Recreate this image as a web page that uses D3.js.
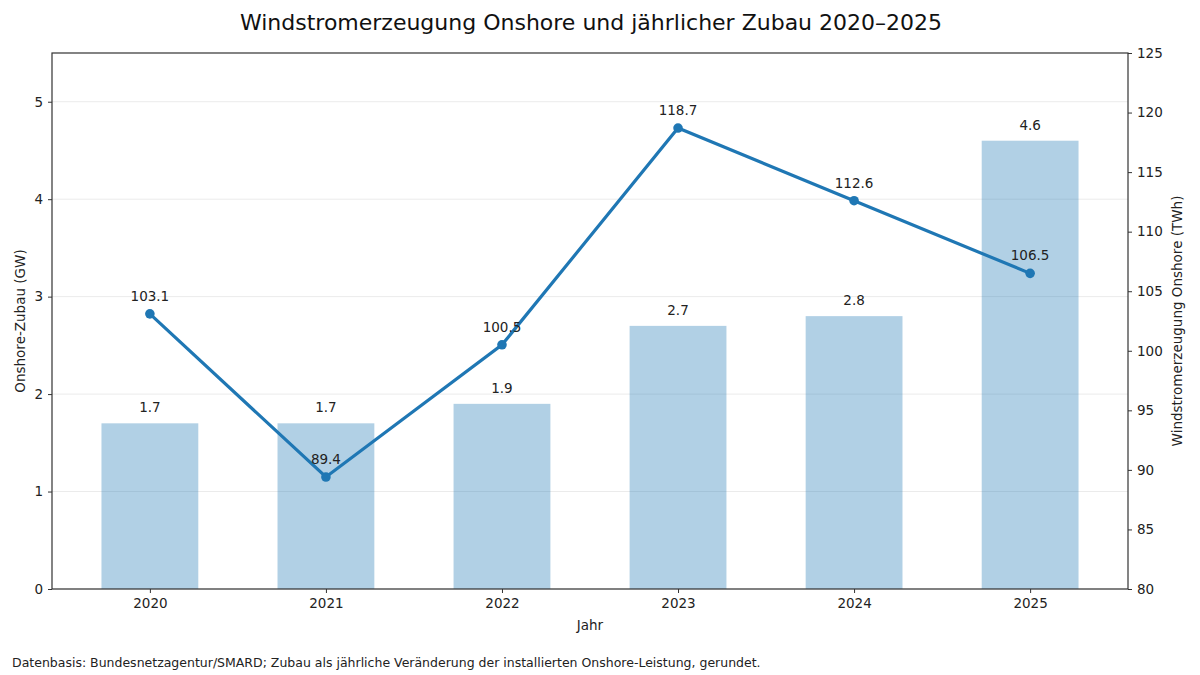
<!DOCTYPE html>
<html><head><meta charset="utf-8">
<script src="https://cdn.jsdelivr.net/npm/d3@7"></script>
<style>body{margin:0;background:#fff;} text{font-family:"DejaVu Sans",sans-serif;}</style>
</head><body><svg id="c" width="1200" height="675"></svg>
<script>
const years = ["2020","2021","2022","2023","2024","2025"];
const zubauGW = [1.7,1.7,1.9,2.7,2.8,4.6];
const erzeugungTWh = [103.1,89.4,100.5,118.7,112.6,106.5];
const leftTicks = [0,1,2,3,4,5];
const rightTicks = [80,85,90,95,100,105,110,115,120,125];

const svg = d3.select("#c");
const L=52,R=1128,T=53,B=589;
const x = d3.scaleLinear().domain([-0.556,5.556]).range([L,R]);
const yL = d3.scaleLinear().domain([0,5.5]).range([B,T]);
const yR = d3.scaleLinear().domain([80,125]).range([B,T]);
const bw = x(0.55)-x(0);

// grid
svg.append("g").selectAll("line").data(leftTicks).join("line")
  .attr("x1",L).attr("x2",R).attr("y1",d=>yL(d)).attr("y2",d=>yL(d))
  .attr("stroke","#ebebeb").attr("stroke-width",1);

// bars
svg.append("g").selectAll("rect").data(zubauGW).join("rect")
  .attr("x",(d,i)=>x(i)-bw/2).attr("width",bw)
  .attr("y",d=>yL(d)).attr("height",d=>B-yL(d))
  .attr("fill","#1f77b4").attr("fill-opacity",0.35);

svg.append("g").selectAll("text").data(zubauGW).join("text")
  .attr("x",(d,i)=>x(i)).attr("y",d=>yL(d)-11)
  .attr("text-anchor","middle").attr("font-size",13.5).attr("fill","#222")
  .text(d=>d.toFixed(1));

// line
const line = d3.line().x((d,i)=>x(i)).y(d=>yR(d));
svg.append("path").datum(erzeugungTWh).attr("d",line)
  .attr("fill","none").attr("stroke","#1f77b4").attr("stroke-width",3.2);
svg.append("g").selectAll("circle").data(erzeugungTWh).join("circle")
  .attr("cx",(d,i)=>x(i)).attr("cy",d=>yR(d)).attr("r",4.8).attr("fill","#1f77b4");
svg.append("g").selectAll("text").data(erzeugungTWh).join("text")
  .attr("x",(d,i)=>x(i)).attr("y",d=>yR(d)-13)
  .attr("text-anchor","middle").attr("font-size",13.5).attr("fill","#222")
  .text(d=>d.toFixed(1));

// axes
const ax = d3.axisBottom(x).tickValues(d3.range(years.length)).tickFormat(i=>years[i]).tickSize(4).tickPadding(5);
const gx = svg.append("g").attr("transform",`translate(0,${B})`).call(ax);
const gl = svg.append("g").attr("transform",`translate(${L},0)`).call(d3.axisLeft(yL).tickValues(leftTicks).tickFormat(d3.format("d")).tickSize(4).tickPadding(5));
const gr = svg.append("g").attr("transform",`translate(${R},0)`).call(d3.axisRight(yR).tickValues(rightTicks).tickFormat(d3.format("d")).tickSize(4).tickPadding(5));
[gx,gl,gr].forEach(g=>{
  g.select(".domain").remove();
  g.selectAll("line").attr("stroke","#333");
  g.selectAll("text").attr("font-size",13.5).attr("fill","#222").attr("font-family","DejaVu Sans, sans-serif");
});
svg.append("rect").attr("x",L).attr("y",T).attr("width",R-L).attr("height",B-T)
  .attr("fill","none").attr("stroke","#333").attr("stroke-width",1.2);

// labels
svg.append("text").attr("x",591).attr("y",30).attr("text-anchor","middle").attr("font-size",22).attr("fill","#111")
  .text("Windstromerzeugung Onshore und jährlicher Zubau 2020–2025");
svg.append("text").attr("x",(L+R)/2).attr("y",630).attr("text-anchor","middle").attr("font-size",13.5).attr("fill","#222").text("Jahr");
svg.append("text").attr("transform",`translate(25,${(T+B)/2}) rotate(-90)`).attr("text-anchor","middle").attr("font-size",13.5).attr("fill","#222").text("Onshore-Zubau (GW)");
svg.append("text").attr("transform",`translate(1182,${(T+B)/2}) rotate(-90)`).attr("text-anchor","middle").attr("font-size",13.5).attr("fill","#222").text("Windstromerzeugung Onshore (TWh)");
svg.append("text").attr("x",12).attr("y",667).attr("font-size",12.5).attr("fill","#222")
  .text("Datenbasis: Bundesnetzagentur/SMARD; Zubau als jährliche Veränderung der installierten Onshore-Leistung, gerundet.");
</script></body></html>
